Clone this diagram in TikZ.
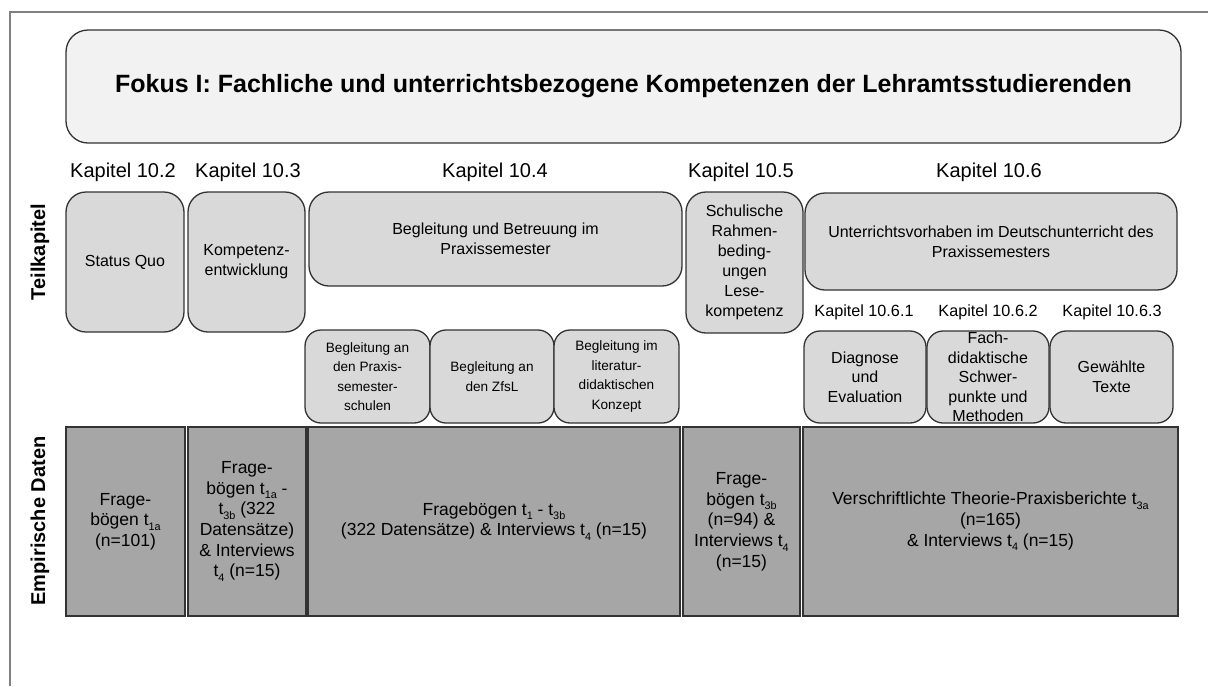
\documentclass[tikz,border=0pt]{standalone}
\usepackage{fontspec}
\usepackage{graphicx}
\setmainfont{Liberation Sans}
\definecolor{titlefill}{HTML}{F2F2F2}
\definecolor{boxfill}{HTML}{D9D9D9}
\definecolor{datafill}{HTML}{A6A6A6}
\definecolor{edgegray}{HTML}{333333}
\definecolor{framegray}{HTML}{808080}
% lowered, reduced index text (t_1a etc.)
\newcommand\lowidx[1]{\raisebox{-0.28em}{\scalebox{0.62}{#1}}}
\begin{document}
\begin{tikzpicture}[x=1pt,y=-1pt,
  every node/.style={inner sep=0pt, outer sep=0pt, align=center, text=black},
  titlebox/.style={draw=edgegray, line width=1.3pt, fill=titlefill, rounded corners=22pt,
    font=\fontsize{25}{30}\selectfont\bfseries},
  chapter/.style={font=\fontsize{20}{24}\selectfont},
  subchapter/.style={font=\fontsize{16.2}{20}\selectfont},
  topicbox/.style={draw=edgegray, line width=1.3pt, fill=boxfill, rounded corners=20pt,
    font=\fontsize{16}{20}\selectfont},
  smallbox/.style={draw=edgegray, line width=1.3pt, fill=boxfill, rounded corners=16pt,
    font=\fontsize{13.6}{19.4}\selectfont},
  detailbox/.style={draw=edgegray, line width=1.3pt, fill=boxfill, rounded corners=16pt,
    font=\fontsize{16}{19.5}\selectfont},
  databox/.style={draw=edgegray, line width=1.5pt, fill=datafill,
    font=\fontsize{17.5}{20.7}\selectfont},
  rowlabel/.style={rotate=90, font=\fontsize{20}{24}\selectfont\bfseries},
]
\useasboundingbox (0,0) rectangle (1208,686);

% outer frame (top and left edge)
\draw[framegray, line width=1.8pt] (1208,12) -- (10,12) -- (10,686);

% title
\node[titlebox, minimum width=1115pt, minimum height=113pt] (title) at (623.5,86.5)
  {Fokus I: Fachliche und unterrichtsbezogene Kompetenzen der Lehramtsstudierenden};

% chapter headings
\node[chapter] (k2) at (123,172) {Kapitel 10.2};
\node[chapter] (k3) at (248,172) {Kapitel 10.3};
\node[chapter] (k4) at (495,172) {Kapitel 10.4};
\node[chapter] (k5) at (741,172) {Kapitel 10.5};
\node[chapter] (k6) at (989,172) {Kapitel 10.6};

% row labels
\node[rowlabel] (lteil) at (40,252) {Teilkapitel};
\node[rowlabel] (ldaten) at (40,521) {Empirische Daten};

% sub-chapter boxes
\node[topicbox, minimum width=118pt, minimum height=140pt] (sq) at (125,262) {Status Quo};
\node[topicbox, minimum width=117pt, minimum height=140pt] (ke) at (246.5,262) {Kompetenz-\\entwicklung};
\node[topicbox, minimum width=373pt, minimum height=94pt] (bb) at (495.5,239) {Begleitung und Betreuung im\\Praxissemester};
\node[topicbox, minimum width=117pt, minimum height=141pt] (sr) at (744.5,262.5)
  {Schulische\\Rahmen-\\beding-\\ungen\\Lese-\\kompetenz};
\node[topicbox, minimum width=372pt, minimum height=97pt] (uv) at (991,241.5)
  {Unterrichtsvorhaben im Deutschunterricht des\\Praxissemesters};

% Kapitel 10.4 details
\node[smallbox, minimum width=125pt, minimum height=93pt] (b1) at (367.5,376.5)
  {Begleitung an\\den Praxis-\\semester-\\schulen};
\node[smallbox, minimum width=124pt, minimum height=93pt] (b2) at (492,376.5)
  {Begleitung an\\den ZfsL};
\node[smallbox, minimum width=125pt, minimum height=93pt] (b3) at (616.5,376.5)
  {Begleitung im\\literatur-\\didaktischen\\Konzept};

% Kapitel 10.6 details
\node[subchapter] (k61) at (864,312) {Kapitel 10.6.1};
\node[subchapter] (k62) at (988,312) {Kapitel 10.6.2};
\node[subchapter] (k63) at (1112,312) {Kapitel 10.6.3};
\node[detailbox, minimum width=122pt, minimum height=92pt] (d1) at (865,377)
  {Diagnose\\und\\Evaluation};
\node[detailbox, minimum width=122pt, minimum height=92pt] (d2) at (988,377)
  {Fach-\\didaktische\\Schwer-\\punkte und\\Methoden};
\node[detailbox, minimum width=123pt, minimum height=92pt] (d3) at (1111.5,377)
  {Gewählte\\Texte};

% empirical data
\node[databox, minimum width=119pt, minimum height=189pt] (e1) at (125.5,521.5)
  {Frage-\\bögen t\lowidx{1a}\\(n=101)};
\node[databox, minimum width=118pt, minimum height=189pt] (e2) at (247,521.5)
  {Frage-\\bögen t\lowidx{1a} -\\t\lowidx{3b} (322\\Datensätze)\\\& Interviews\\t\lowidx{4} (n=15)};
\node[databox, minimum width=372pt, minimum height=189pt] (e3) at (494,521.5)
  {Fragebögen t\lowidx{1} - t\lowidx{3b}\\(322 Datensätze) \& Interviews t\lowidx{4} (n=15)};
\node[databox, minimum width=117pt, minimum height=189pt] (e4) at (741.5,521.5)
  {Frage-\\bögen t\lowidx{3b}\\(n=94) \&\\Interviews t\lowidx{4}\\(n=15)};
\node[databox, minimum width=375pt, minimum height=189pt] (e5) at (990.5,521.5)
  {Verschriftlichte Theorie-Praxisberichte t\lowidx{3a}\\(n=165)\\\& Interviews t\lowidx{4} (n=15)};
\end{tikzpicture}
\end{document}
